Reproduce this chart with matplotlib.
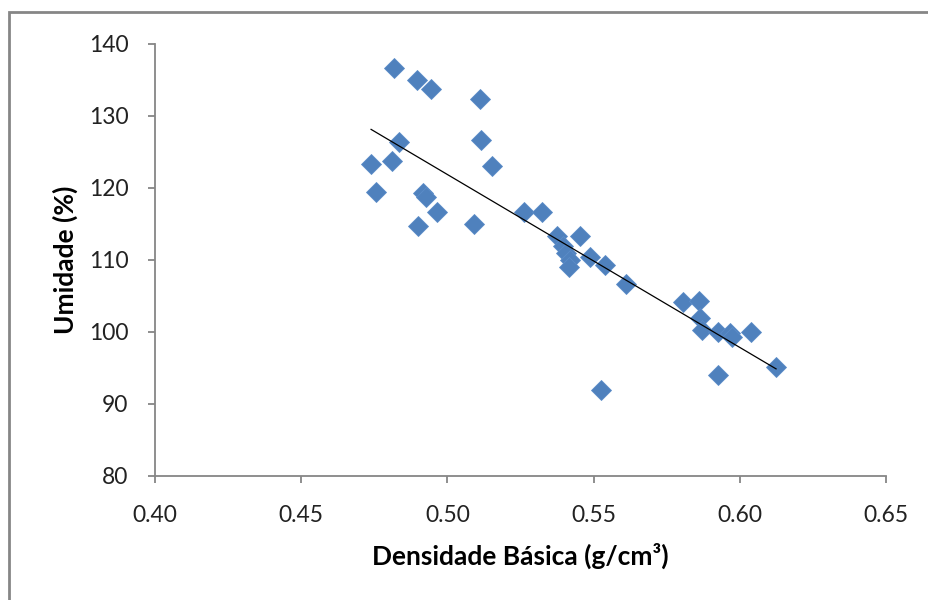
import numpy as np
import matplotlib
matplotlib.use("Agg")
import matplotlib.pyplot as plt
from matplotlib.patches import Rectangle

plt.rcParams['font.family'] = ['Lato', 'DejaVu Sans']

# densidade basica (g/cm3) x umidade (%)
densidade = [0.4739, 0.4756, 0.4817, 0.4811, 0.4834, 0.4896, 0.4944, 0.4899,
             0.4917, 0.4927, 0.4964, 0.5091, 0.5111, 0.5115, 0.5153, 0.5262,
             0.5324, 0.5375, 0.5395, 0.5406, 0.5419, 0.5416, 0.5453, 0.5488,
             0.5539, 0.5611, 0.5525, 0.5806, 0.5860, 0.5864, 0.5871, 0.5925,
             0.5966, 0.5975, 0.6038, 0.6124, 0.5925]
umidade = [123.3, 119.4, 136.7, 123.7, 126.4, 135.0, 133.8, 114.7,
           119.3, 118.7, 116.7, 115.0, 132.4, 126.7, 123.1, 116.6,
           116.6, 113.4, 112.0, 111.0, 110.0, 109.0, 113.3, 110.4,
           109.3, 106.6, 91.9, 104.2, 104.3, 102.0, 100.3, 100.0,
           99.9, 99.3, 100.0, 95.1, 94.0]

x = np.array(densidade)
y = np.array(umidade)

fig = plt.figure(figsize=(9.29, 6.0), dpi=100)
ax = fig.add_axes([155/929, 1-476/600, (886-155)/929, (476-44)/600])

ax.plot(x, y, 'D', color='#4F81BD', markersize=10.5, markeredgecolor='#5B8CC8',
        markeredgewidth=0.6, zorder=3)

# linha de tendencia
a, b = np.polyfit(x, y, 1)
xl = np.array([x.min(), x.max()])
ax.plot(xl, a*xl + b, color='black', linewidth=0.9, zorder=4)

ax.set_xlim(0.40, 0.65)
ax.set_ylim(80, 140)
ax.set_xticks(np.arange(0.40, 0.651, 0.05))
ax.set_yticks(np.arange(80, 141, 10))
ax.set_xticklabels(['%.2f' % v for v in np.arange(0.40, 0.651, 0.05)])

for s in ['top', 'right']:
    ax.spines[s].set_visible(False)
for s in ['left', 'bottom']:
    ax.spines[s].set_color('#868686')
    ax.spines[s].set_linewidth(1.3)
ax.tick_params(colors='#868686', length=5, width=1.3, labelsize=16.5, labelcolor='#222222')
ax.tick_params(axis='x', pad=16)
ax.tick_params(axis='y', pad=14)

ax.set_xlabel('Densidade Básica (g/cm³)', fontsize=19, fontweight='bold', labelpad=12)
ax.set_ylabel('Umidade (%)', fontsize=19, fontweight='bold', labelpad=8)

fig.add_artist(Rectangle((9/929, -0.2), 1.5, 0.2 + 1 - 12/600, fill=False,
                         edgecolor='#868686', linewidth=2, transform=fig.transFigure))

fig.savefig('out.png', dpi=100)
